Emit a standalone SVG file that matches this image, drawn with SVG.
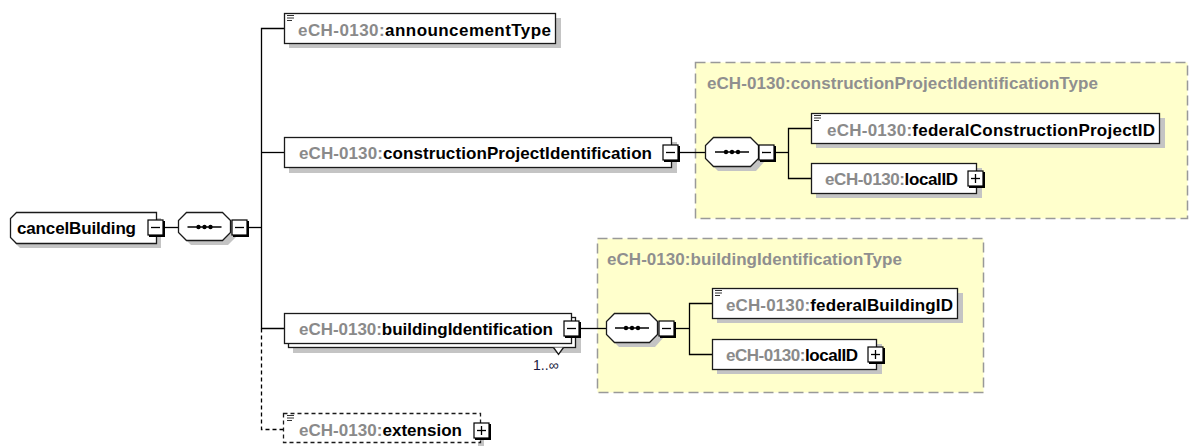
<svg xmlns="http://www.w3.org/2000/svg" width="1189" height="446" viewBox="0 0 1189 446">
<style>
.box{fill:#fff;stroke:#1a1a1a;stroke-width:1.3}
.dbox{fill:#fff;stroke:#1a1a1a;stroke-width:1.3;stroke-dasharray:4 3}
.sh{fill:#c4c4c4}
.grp{fill:#ffffcc;stroke:#999;stroke-width:1.5;stroke-dasharray:10 5}
.t{font-family:"Liberation Sans",Arial,sans-serif;font-weight:bold;font-size:17px;fill:#000}
.pre{fill:#8a8a8a}
.title{font-family:"Liberation Sans",Arial,sans-serif;font-weight:bold;font-size:17px;fill:#8f8f8f}
.ln{stroke:#000;stroke-width:1.3;fill:none}
.dl{stroke:#000;stroke-width:1.3;fill:none;stroke-dasharray:4 3}
.tog{fill:#fff;stroke:#000;stroke-width:1.2}
.tg2{stroke:#000;stroke-width:2;fill:none}
.sign{stroke:#000;stroke-width:1.3}
.ico{stroke:#333;stroke-width:1}
.dot{fill:#000}
.card{font-family:"Liberation Sans",Arial,sans-serif;font-size:14px;fill:#1a1a40}
</style>
<defs>
<g id="minus"><rect class="tog" x="0" y="0" width="15" height="15"/><path class="tg2" d="M1,16 H16 V1"/><line class="sign" x1="3" y1="7.5" x2="12" y2="7.5"/></g>
<g id="plus"><rect class="tog" x="0" y="0" width="15" height="15"/><path class="tg2" d="M1,16 H16 V1"/><line class="sign" x1="3" y1="7.5" x2="12" y2="7.5"/><line class="sign" x1="7.5" y1="3" x2="7.5" y2="12"/></g>
<g id="doc"><line class="ico" x1="0" y1="0.5" x2="7" y2="0.5"/><line class="ico" x1="0" y1="3" x2="7" y2="3"/><line class="ico" x1="0" y1="5.5" x2="5" y2="5.5"/></g>
<g id="seqdots"><line class="ln" x1="-17" y1="0" x2="17" y2="0"/><circle class="dot" cx="-6" cy="0" r="2.2"/><circle class="dot" cx="0" cy="0" r="2.2"/><circle class="dot" cx="6" cy="0" r="2.2"/></g>
</defs>

<!-- type groups -->
<g id="grp-constructionProjectIdentificationType">
<rect class="grp" x="695.5" y="62.5" width="492" height="156"/>
<text class="title" x="707" y="89" textLength="391">eCH-0130:constructionProjectIdentificationType</text>
</g>
<g id="grp-buildingIdentificationType">
<rect class="grp" x="597.5" y="238.5" width="386" height="154"/>
<text class="title" x="607" y="265" textLength="295">eCH-0130:buildingIdentificationType</text>
</g>

<!-- connectors -->
<g id="connectors">
<line class="ln" x1="163" y1="227.5" x2="178" y2="227.5"/>
<line class="ln" x1="248" y1="227.5" x2="261.5" y2="227.5"/>
<path class="ln" d="M284,28.5 H261.5 V328.5 H284"/>
<line class="ln" x1="261.5" y1="152.5" x2="284" y2="152.5"/>
<path class="dl" d="M261.5,328.5 V429.5 H283"/>
<line class="ln" x1="679" y1="152.5" x2="705" y2="152.5"/>
<line class="ln" x1="775" y1="152.5" x2="788.5" y2="152.5"/>
<path class="ln" d="M811,128.5 H788.5 V178.5 H811"/>
<line class="ln" x1="580" y1="328.5" x2="606" y2="328.5"/>
<line class="ln" x1="675" y1="328.5" x2="689.5" y2="328.5"/>
<path class="ln" d="M712,303.5 H689.5 V354.5 H712"/>
</g>

<!-- root -->
<g id="node-cancelBuilding">
<path class="sh" d="M20,218 H161 V248 H20 L15,243 V224 Z"/>
<path class="box" d="M16.5,212.5 H156.5 V243.5 H16.5 L10.5,237.5 V218.5 Z"/>
<text class="t" x="17" y="234" textLength="119">cancelBuilding</text>
<use href="#minus" x="148" y="220"/>
</g>

<g id="seq-main">
<path class="sh" d="M191,217 H228 L236,225 V237 L228,245 H191 L183,237 V225 Z"/>
<path class="box" d="M186.5,212.5 H222.5 L230.5,220.5 V232.5 L222.5,240.5 H186.5 L178.5,232.5 V220.5 Z"/>
<use href="#seqdots" x="204.5" y="227"/>
<use href="#minus" x="232" y="220"/>
</g>

<g id="node-announcementType">
<rect class="sh" x="289" y="18" width="272" height="30"/>
<rect class="box" x="284.5" y="13.5" width="271" height="30"/>
<use href="#doc" x="287" y="15"/>
<text class="t" x="298" y="36" textLength="253"><tspan class="pre">eCH-0130:</tspan>announcementType</text>
</g>

<g id="node-constructionProjectIdentification">
<rect class="sh" x="289" y="142" width="388" height="31"/>
<rect class="box" x="284.5" y="137.5" width="387" height="30"/>
<text class="t" x="299" y="159" textLength="353"><tspan class="pre">eCH-0130:</tspan>constructionProjectIdentification</text>
<use href="#minus" x="663" y="145"/>
</g>

<g id="seq-construction">
<path class="sh" d="M718,142 H756 L764,150 V162 L756,171 H718 L710,163 V150 Z"/>
<path class="box" d="M713.5,137.5 H750.5 L758.5,145.5 V158.5 L750.5,166.5 H713.5 L705.5,158.5 V145.5 Z"/>
<use href="#seqdots" x="732" y="152"/>
<use href="#minus" x="759" y="145"/>
</g>

<g id="node-federalConstructionProjectID">
<rect class="sh" x="816" y="118" width="349" height="30"/>
<rect class="box" x="811.5" y="113.5" width="348" height="30"/>
<use href="#doc" x="814" y="115"/>
<text class="t" x="827" y="136" textLength="328"><tspan class="pre">eCH-0130:</tspan>federalConstructionProjectID</text>
</g>

<g id="node-localID-1">
<rect class="sh" x="816" y="168" width="166" height="30"/>
<rect class="box" x="811.5" y="163.5" width="165" height="30"/>
<text class="t" x="825" y="185" textLength="133"><tspan class="pre">eCH-0130:</tspan>localID</text>
<use href="#plus" x="968" y="171"/>
</g>

<g id="node-buildingIdentification">
<rect class="sh" x="293" y="322" width="288" height="31"/>
<rect class="box" x="288.5" y="317.5" width="287" height="30"/>
<rect class="box" x="284.5" y="313.5" width="287" height="30"/>
<path class="box" d="M553.5,347.5 L558.5,354.5 L563.5,347.5"/>
<text class="t" x="299" y="335" textLength="254"><tspan class="pre">eCH-0130:</tspan>buildingIdentification</text>
<use href="#minus" x="564" y="321"/>
<text class="card" x="533" y="370">1..∞</text>
</g>

<g id="seq-building">
<path class="sh" d="M619,318 H655 L663,326 V338 L655,347 H619 L611,339 V326 Z"/>
<path class="box" d="M614.5,313.5 H649.5 L657.5,321.5 V334.5 L649.5,342.5 H614.5 L606.5,334.5 V321.5 Z"/>
<use href="#seqdots" x="632" y="328"/>
<use href="#minus" x="659" y="321"/>
</g>

<g id="node-federalBuildingID">
<rect class="sh" x="717" y="293" width="246" height="30"/>
<rect class="box" x="712.5" y="288.5" width="245" height="30"/>
<use href="#doc" x="715" y="290"/>
<text class="t" x="726" y="311" textLength="227"><tspan class="pre">eCH-0130:</tspan>federalBuildingID</text>
</g>

<g id="node-localID-2">
<rect class="sh" x="717" y="344" width="165" height="30"/>
<rect class="box" x="712.5" y="339.5" width="164" height="30"/>
<text class="t" x="726" y="361" textLength="132"><tspan class="pre">eCH-0130:</tspan>localID</text>
<use href="#plus" x="868" y="347"/>
</g>

<g id="node-extension">
<rect class="sh" x="478" y="432" width="6" height="14"/>
<rect class="dbox" x="283.5" y="413.5" width="197" height="29"/>
<use href="#doc" x="287" y="415"/>
<text class="t" x="299" y="436" textLength="163"><tspan class="pre">eCH-0130:</tspan>extension</text>
<use href="#plus" x="474" y="423"/>
</g>
</svg>
